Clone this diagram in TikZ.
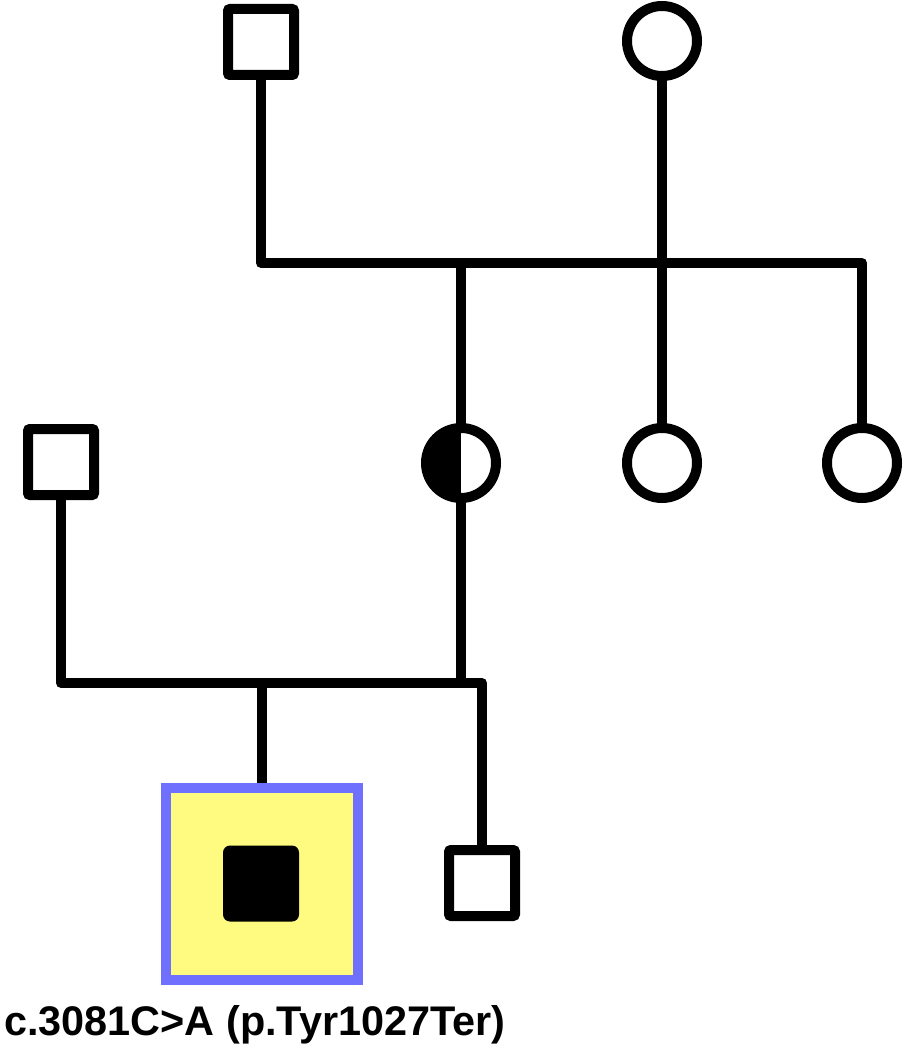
\documentclass[tikz,border=0pt]{standalone}
\usepackage{fontspec}
\setmainfont{Liberation Sans}
\definecolor{probfill}{RGB}{255,250,128}
\definecolor{probline}{RGB}{112,112,255}
\begin{document}
\begin{tikzpicture}[x=1pt,y=-1pt,
  male/.style={draw,line width=10pt,rectangle,rounded corners=2pt,minimum size=66pt,inner sep=0pt,outer sep=0pt,fill=white},
  female/.style={draw,line width=10pt,circle,minimum size=70pt,inner sep=0pt,outer sep=0pt,fill=white},
  carrier/.style={female,path picture={\fill[black] (path picture bounding box.north west) rectangle (path picture bounding box.south);}},
  link/.style={line width=10pt,line join=round}]
\useasboundingbox (0,0) rectangle (905,1046);
% nodes
\node[male] (gp1) at (261,42) {};
\node[female] (gp2) at (662,41) {};
\node[carrier] (mother) at (461,463) {};
\node[female] (aunt1) at (662,463) {};
\node[female] (aunt2) at (862,463) {};
\node[male] (father) at (61,462) {};
\node[male] (brother) at (482,883) {};
\node[draw=probline,fill=probfill,line width=10pt,rectangle,minimum size=192pt,inner sep=0pt,outer sep=5pt] (proband) at (261.5,883.5) {};
\node[fill=black,rectangle,rounded corners=7pt,minimum size=76pt,inner sep=0pt] (affected) at (261,883.5) {};
\node[anchor=base west,inner sep=0pt,font=\fontsize{41.4}{48}\selectfont\bfseries] (label) at (4,1035) {c.3081C>A (p.Tyr1027Ter)};
% connectors
\coordinate (sibL) at (gp1.south |- 0,263);
\coordinate (sibR) at (aunt2.north |- 0,263);
\coordinate (mateL) at (father.south |- 0,683);
\coordinate (mateR) at (brother.north |- 0,683);
\draw[link] (gp1.south) -- (sibL) -- (sibR) -- (aunt2.north);
\draw[link] (gp2.south) -- (aunt1.north);
\draw[link] (mother.north |- sibL) -- (mother.north);
\draw[link] (father.south) -- (mateL) -- (mateR) -- (brother.north);
\draw[link] (mother.south) -- (mother.south |- mateL);
\draw[link] (proband.north |- mateL) -- (proband.north);
\end{tikzpicture}
\end{document}
